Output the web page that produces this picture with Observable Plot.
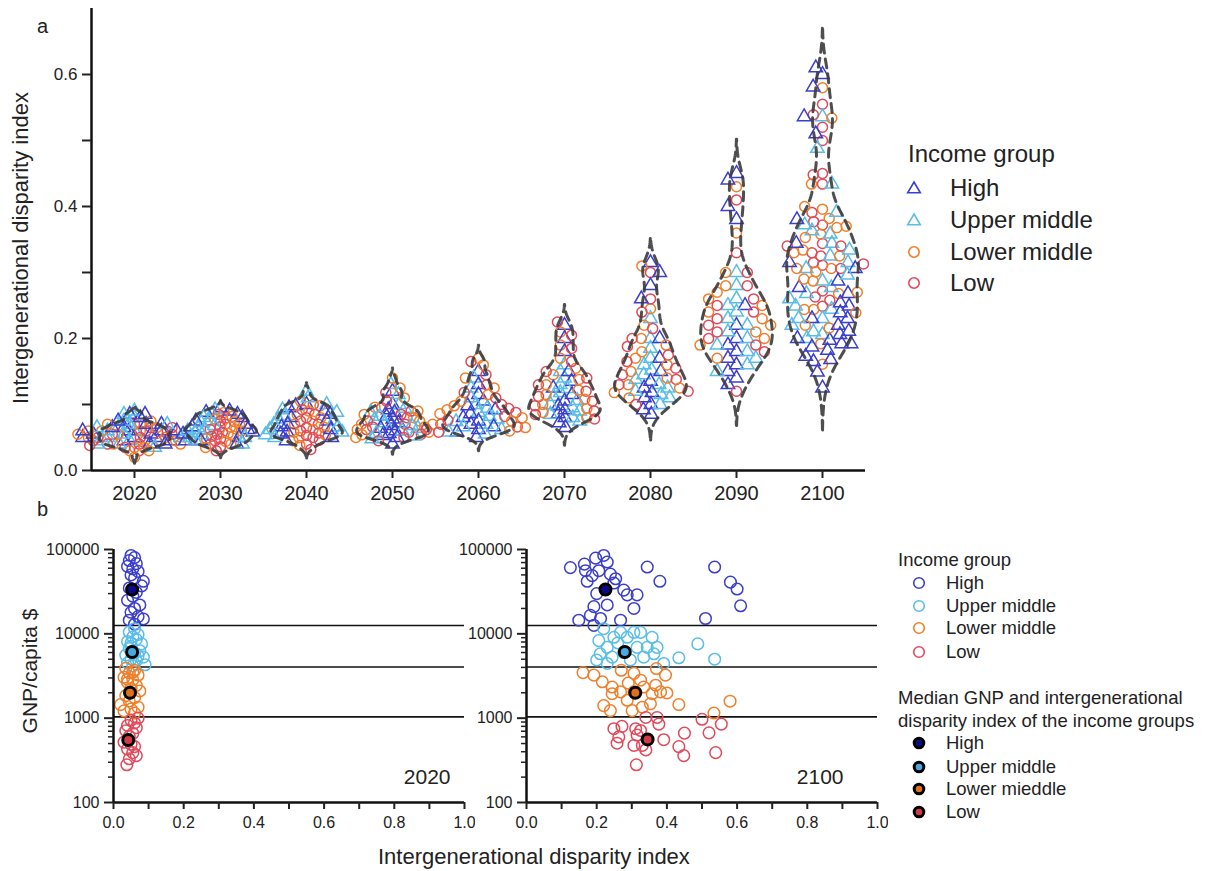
<!DOCTYPE html>
<html><head><meta charset="utf-8">
<script src="https://cdn.jsdelivr.net/npm/d3@7"></script>
<script src="https://cdn.jsdelivr.net/npm/@observablehq/plot@0.6"></script>
<style>
body{margin:0;background:#fff;font-family:"Liberation Sans",Arial,Helvetica,sans-serif;color:#222;}
#page{position:relative;width:1210px;height:871px;overflow:hidden;background:#fff;}
.lbl{position:absolute;white-space:nowrap;line-height:1;}
.pw{position:absolute;}
.sym{position:absolute;overflow:visible;}
</style></head><body><div id="page"></div>
<script>
// ---------- categories & styles ----------
const groups = ["High", "Upper middle", "Lower middle", "Low"];
const groupColors = ["#3b3fc9", "#59bde8", "#ef7f2a", "#e04a5a"];
const medianFills = ["#0b0b8a", "#4aa8e0", "#e0701c", "#d23a45"];
const decades = [2020, 2030, 2040, 2050, 2060, 2070, 2080, 2090, 2100];
const incomeThresholds = [1035, 4045, 12535];

// ---------- panel b data: [intergenerational disparity index, GNP/capita $] ----------
const b2020High = [[0.05,85000],[0.06,80000],[0.045,74000],[0.065,68000],[0.04,63000],[0.055,59000],[0.07,55000],[0.05,50000],[0.06,46000],[0.085,42000],[0.08,37000],[0.045,35000],[0.065,31000],[0.055,28000],[0.04,25000],[0.075,22000],[0.06,20000],[0.05,18000],[0.07,16000],[0.085,15000],[0.045,14500],[0.06,13000]];
const b2020UpperMiddle = [[0.06,11500],[0.045,10500],[0.07,9800],[0.055,9200],[0.065,8600],[0.04,8100],[0.08,7600],[0.05,7100],[0.045,6700],[0.075,6300],[0.06,5900],[0.035,5600],[0.085,5300],[0.05,5000],[0.065,4800],[0.04,4500],[0.09,4300],[0.055,4150],[0.07,5500],[0.05,7800]];
const b2020LowerMiddle = [[0.035,3900],[0.06,3700],[0.045,3450],[0.07,3250],[0.03,3050],[0.055,2850],[0.04,2650],[0.065,2450],[0.05,2250],[0.075,2100],[0.035,1850],[0.06,1750],[0.045,1600],[0.02,1450],[0.07,1350],[0.05,1280],[0.03,1220],[0.06,1150],[0.04,2900],[0.055,3500]];
const b2020Low = [[0.07,1000],[0.05,950],[0.06,880],[0.04,820],[0.065,770],[0.035,710],[0.055,660],[0.045,610],[0.03,520],[0.05,490],[0.06,460],[0.04,430],[0.055,390],[0.065,360],[0.045,330],[0.038,280]];
const median2020 = [[0.053,33500],[0.053,6100],[0.047,2000],[0.042,550]];

const b2100High = [[0.125,61000],[0.165,67000],[0.197,79000],[0.22,85000],[0.23,71000],[0.168,56000],[0.187,49000],[0.173,42000],[0.206,56000],[0.239,51000],[0.254,45000],[0.249,40000],[0.277,33000],[0.287,29000],[0.315,29000],[0.306,20000],[0.2,30000],[0.192,21000],[0.182,16600],[0.149,14500],[0.211,15200],[0.268,14500],[0.23,22000],[0.192,12600],[0.344,62000],[0.38,42000],[0.536,62000],[0.581,41000],[0.6,34000],[0.61,21500],[0.51,15200]];
const b2100UpperMiddle = [[0.206,8300],[0.23,6900],[0.21,5800],[0.2,4900],[0.244,5300],[0.277,6000],[0.287,9100],[0.306,10400],[0.325,10400],[0.268,10400],[0.315,6900],[0.344,6900],[0.358,9100],[0.334,5300],[0.363,5800],[0.391,4450],[0.249,9100],[0.23,4450],[0.434,5200],[0.488,7600],[0.536,5000],[0.296,4900],[0.372,6900],[0.26,7800],[0.22,11500]];
const b2100LowerMiddle = [[0.161,3470],[0.192,3240],[0.216,2700],[0.244,2340],[0.244,1950],[0.268,2050],[0.306,2050],[0.287,1630],[0.306,3400],[0.325,2820],[0.334,2340],[0.358,1950],[0.382,2050],[0.396,3240],[0.368,2460],[0.22,1410],[0.239,1230],[0.301,1230],[0.33,1350],[0.353,1480],[0.434,1450],[0.534,1150],[0.58,1590],[0.4,1990],[0.37,3880],[0.29,2600],[0.27,3700]];
const b2100Low = [[0.249,750],[0.272,800],[0.263,600],[0.258,505],[0.311,750],[0.315,630],[0.325,715],[0.306,475],[0.33,475],[0.344,555],[0.372,1020],[0.377,850],[0.34,1020],[0.391,555],[0.434,460],[0.45,665],[0.448,360],[0.5,970],[0.52,670],[0.555,850],[0.539,390],[0.313,280],[0.34,420]];
const median2100 = [[0.225,33500],[0.28,6100],[0.31,2000],[0.345,560]];

// ---------- panel a data: index by decade, [High, Upper middle, Lower middle, Low] ----------
const idx2030 = [
 [0.095,0.09,0.088,0.085,0.08,0.075,0.07,0.066,0.062,0.058,0.055,0.05,0.045,0.04],
 [0.092,0.085,0.08,0.075,0.072,0.068,0.065,0.062,0.06,0.057,0.054,0.05,0.046,0.04],
 [0.088,0.082,0.078,0.074,0.07,0.066,0.063,0.06,0.056,0.052,0.048,0.044,0.04,0.035],
 [0.085,0.08,0.075,0.07,0.066,0.062,0.058,0.055,0.052,0.048,0.045,0.04,0.036,0.03]];
const idx2040 = [
 [0.1,0.098,0.095,0.09,0.085,0.08,0.075,0.07,0.066,0.062,0.058,0.055,0.05,0.045],
 [0.12,0.11,0.1,0.092,0.088,0.082,0.078,0.074,0.07,0.066,0.062,0.058,0.054,0.05],
 [0.105,0.098,0.09,0.085,0.08,0.075,0.07,0.065,0.062,0.058,0.054,0.05,0.045,0.038],
 [0.1,0.092,0.085,0.08,0.075,0.07,0.065,0.06,0.057,0.053,0.05,0.046,0.04,0.032]];
const idx2050 = [
 [0.12,0.1,0.092,0.088,0.082,0.078,0.072,0.068,0.064,0.06,0.056,0.053,0.05,0.04],
 [0.13,0.115,0.1,0.094,0.088,0.082,0.076,0.072,0.068,0.064,0.06,0.056,0.052,0.048],
 [0.14,0.125,0.11,0.096,0.09,0.085,0.08,0.075,0.07,0.066,0.062,0.058,0.054,0.05],
 [0.118,0.105,0.095,0.09,0.085,0.08,0.075,0.07,0.066,0.062,0.058,0.055,0.05,0.045]];
const idx2060 = [
 [0.15,0.13,0.115,0.105,0.098,0.092,0.086,0.08,0.075,0.07,0.066,0.062,0.058,0.05],
 [0.14,0.125,0.11,0.1,0.094,0.088,0.082,0.078,0.074,0.07,0.066,0.062,0.058,0.055],
 [0.17,0.16,0.14,0.125,0.115,0.105,0.098,0.092,0.086,0.08,0.075,0.07,0.065,0.06],
 [0.165,0.145,0.13,0.118,0.11,0.1,0.094,0.088,0.082,0.076,0.07,0.066,0.062,0.058]];
const idx2070 = [
 [0.22,0.2,0.18,0.15,0.135,0.125,0.115,0.105,0.098,0.092,0.086,0.08,0.072,0.065],
 [0.16,0.15,0.14,0.13,0.124,0.118,0.112,0.106,0.1,0.095,0.09,0.085,0.08,0.075],
 [0.21,0.19,0.17,0.155,0.145,0.138,0.13,0.122,0.115,0.108,0.1,0.094,0.088,0.08],
 [0.225,0.205,0.185,0.165,0.15,0.14,0.13,0.12,0.112,0.105,0.098,0.09,0.085,0.078]];
const idx2080 = [
 [0.315,0.3,0.28,0.26,0.2,0.17,0.15,0.135,0.125,0.118,0.11,0.1,0.092,0.085],
 [0.23,0.2,0.185,0.17,0.16,0.152,0.145,0.138,0.13,0.125,0.12,0.115,0.11,0.1],
 [0.31,0.245,0.22,0.2,0.19,0.18,0.17,0.16,0.15,0.14,0.13,0.125,0.118,0.11],
 [0.3,0.26,0.24,0.215,0.2,0.188,0.175,0.165,0.155,0.145,0.138,0.13,0.12,0.1]];
const idx2090 = [
 [0.45,0.44,0.4,0.38,0.25,0.22,0.2,0.19,0.18,0.17,0.16,0.15,0.14,0.13],
 [0.3,0.28,0.26,0.25,0.24,0.23,0.22,0.21,0.2,0.19,0.18,0.17,0.16,0.15],
 [0.43,0.36,0.3,0.28,0.27,0.26,0.25,0.24,0.23,0.22,0.21,0.2,0.19,0.17],
 [0.41,0.33,0.3,0.28,0.26,0.25,0.24,0.23,0.22,0.21,0.2,0.19,0.18,0.12]];

// ---------- styles (not data) ----------
const dodgeRadius = [2.9, 2.9, 3.4, 3.4, 4.1, 3.9, 4.6, 5.4, 4.7];
const FONT = '"Liberation Sans", Arial, Helvetica, sans-serif';

// ---------- build tables ----------
const b2020 = [b2020High, b2020UpperMiddle, b2020LowerMiddle, b2020Low];
const b2100 = [b2100High, b2100UpperMiddle, b2100LowerMiddle, b2100Low];
const idxByDecade = new Map([
  [2020, b2020.map(a => a.map(d => d[0]))],
  [2030, idx2030], [2040, idx2040], [2050, idx2050], [2060, idx2060],
  [2070, idx2070], [2080, idx2080], [2090, idx2090],
  [2100, b2100.map(a => a.map(d => d[0]))]
]);

function interleave(year, arrs) {
  const out = [];
  const m = d3.max(arrs, a => a.length);
  for (let k = 0; k < m; k++) arrs.forEach((a, g) => { if (k < a.length) out.push({year, group: groups[g], v: a[k]}); });
  return out;
}
const swarm = decades.flatMap(y => interleave(y, idxByDecade.get(y)));

// violin outline from a gaussian kernel density of each decade's values
function violin(year, values) {
  const n = values.length, sd = d3.deviation(values);
  const h = 0.55 * 1.06 * sd * Math.pow(n, -0.2);
  const lo = d3.min(values) - 2.5 * h, hi = d3.max(values) + 2.5 * h;
  const N = 140, pts = [];
  for (let i = 0; i <= N; i++) {
    const y = lo + (hi - lo) * i / N;
    let s = 0; for (const v of values) s += Math.exp(-0.5 * ((y - v) / h) ** 2);
    pts.push({y, s});
  }
  const mx = d3.max(pts, p => p.s);
  const right = pts.map(p => ({year, v: p.y, w: p.s / mx}));
  const left = pts.slice().reverse().map(p => ({year, v: p.y, w: -p.s / mx}));
  return right.concat(left, [right[0]]);
}
const violins = decades.flatMap(y => violin(y, idxByDecade.get(y).flat()));

// ---------- layout helpers ----------
const page = document.getElementById("page");
function place(node, x, y) { const w = document.createElement("div"); w.className = "pw"; w.style.left = x + "px"; w.style.top = y + "px"; w.appendChild(node); page.appendChild(w); }
function text(t, x, cy, size, rotate) {
  const d = document.createElement("div"); d.className = "lbl"; d.textContent = t;
  d.style.left = x + "px"; d.style.top = cy + "px"; d.style.fontSize = size + "px";
  d.style.transform = rotate ? "translate(-50%,-50%) rotate(-90deg)" : "translateY(-50%)";
  page.appendChild(d);
}
function symbol(kind, cx, cy, stroke, fill, sw, s) {
  const ns = "http://www.w3.org/2000/svg";
  const svg = document.createElementNS(ns, "svg");
  svg.setAttribute("class", "sym"); svg.setAttribute("width", 20); svg.setAttribute("height", 20);
  svg.style.left = (cx - 10) + "px"; svg.style.top = (cy - 10) + "px";
  let el;
  if (kind === "triangle") { el = document.createElementNS(ns, "path"); el.setAttribute("d", `M10,${10 - s}L${10 + s * 1.05},${10 + s * 0.8}L${10 - s * 1.05},${10 + s * 0.8}Z`); }
  else { el = document.createElementNS(ns, "circle"); el.setAttribute("cx", 10); el.setAttribute("cy", 10); el.setAttribute("r", s); }
  el.setAttribute("fill", fill); el.setAttribute("stroke", stroke); el.setAttribute("stroke-width", sw);
  svg.appendChild(el); page.appendChild(svg);
}

// ---------- panel a ----------
const plotA = Plot.plot({
  width: 880, height: 505, marginLeft: 89, marginRight: 13, marginTop: 8, marginBottom: 35,
  style: {background: "transparent", fontFamily: FONT, color: "#222"},
  fx: {domain: decades, padding: 0},
  x: {domain: [-1.2, 1.2], axis: null},
  y: {domain: [0, 0.7], axis: null},
  symbol: {domain: groups, range: ["triangle", "triangle", "circle", "circle"]},
  color: {domain: groups, range: groupColors},
  marks: [
    ...decades.map((yr, i) => Plot.dot(swarm.filter(d => d.year === yr),
      Plot.dodgeX({anchor: "middle", padding: 0, r: dodgeRadius[i]},
        {fx: "year", y: "v", symbol: "group", stroke: "group", fill: "none", r: 5, strokeWidth: 1.5}))),
    Plot.line(violins, {fx: "year", x: "w", y: "v", z: "year", stroke: "#3b3b3b", strokeWidth: 3, strokeDasharray: "9,6", strokeOpacity: 0.9}),
    Plot.ruleY([0], {strokeWidth: 2.5, stroke: "#111"}),
    Plot.ruleX([{year: decades[0]}], {fx: "year", x: () => -1.2, strokeWidth: 2.5, stroke: "#111"}),
    Plot.axisY({ticks: d3.range(0, 7).map(k => k / 10), tickSize: 9, tickPadding: 5, fontSize: 17, strokeWidth: 2, label: null,
      tickFormat: d => Math.round(d * 10) % 2 === 0 ? d.toFixed(1) : ""}),
    Plot.axisFx({anchor: "bottom", tickSize: 8, tickPadding: 7, fontSize: 20, strokeWidth: 2, label: null, tickFormat: d => String(d)})
  ]
});
place(plotA, 0, 0);

// ---------- panel b ----------
function panelB(year, sets, medians, mL, labelDx) {
  const pts = sets.flatMap((a, g) => a.map(d => ({group: groups[g], idx: d[0], gnp: d[1]})));
  const meds = medians.map((d, g) => ({group: groups[g], idx: d[0], gnp: d[1]}));
  const minor = [];
  for (const base of [100, 1000, 10000]) for (let k = 2; k <= 9; k++) minor.push(base * k);
  return Plot.plot({
    width: mL + 351 + 11, height: 307, marginLeft: mL, marginRight: 11, marginTop: 19, marginBottom: 35,
    style: {background: "transparent", fontFamily: FONT, color: "#222"},
    x: {domain: [0, 1], axis: null},
    y: {type: "log", domain: [100, 100000], axis: null},
    color: {domain: groups, range: groupColors},
    marks: [
      Plot.ruleY(incomeThresholds, {stroke: "#111", strokeWidth: 1.6}),
      Plot.dot(pts, {x: "idx", y: "gnp", stroke: "group", fill: "none", r: 5.8, strokeWidth: 1.5}),
      ...meds.map((m, g) => Plot.dot([m], {x: "idx", y: "gnp", fill: medianFills[g], stroke: "#000", strokeWidth: 3, r: 5.5})),
      Plot.ruleX([0], {strokeWidth: 2.5, stroke: "#111"}),
      Plot.ruleY([100], {strokeWidth: 2.5, stroke: "#111"}),
      Plot.axisY({ticks: [100, 1000, 10000, 100000], tickSize: 9, tickPadding: 5, fontSize: 16, strokeWidth: 2, label: null, tickFormat: d => String(d)}),
      Plot.axisY({ticks: minor, tickSize: 5, strokeWidth: 1.5, label: null, tickFormat: () => ""}),
      Plot.axisX({ticks: d3.range(0, 11).map(k => k / 10), tickSize: 7, tickPadding: 7, fontSize: 16, strokeWidth: 2, label: null,
        tickFormat: d => Math.round(d * 10) % 2 === 0 ? d.toFixed(1) : ""}),
      Plot.text([String(year)], {frameAnchor: "bottom-right", dx: labelDx, dy: -19, text: d => d, textAnchor: "end", lineAnchor: "bottom", fontSize: 21, fill: "#222"})
    ]
  });
}
place(panelB(2020, b2020, median2020, 113, -14), 0, 530);
place(panelB(2100, b2100, median2100, 72, -34), 454, 530);

// ---------- texts ----------
text("a", 37, 26, 20);
text("b", 37, 509, 20);
text("Intergenerational disparity index", 21, 248, 22, true);
text("GNP/capita $", 29, 671, 21, true);
text("Intergenerational disparity index", 378, 857, 22);

// legend a
text("Income group", 908, 154, 24);
const legA = [["triangle", 188], ["triangle", 220], ["circle", 252], ["circle", 283]];
legA.forEach(([k, y], g) => { symbol(k, 914, y, groupColors[g], "none", 1.6, k === "triangle" ? 6 : 5.2); text(groups[g], 950, y, 24); });

// legend b
text("Income group", 898, 560, 18.5);
[583, 606, 628, 652].forEach((y, g) => { symbol("circle", 919, y, groupColors[g], "none", 1.6, 5.3); text(groups[g], 946, y, 18.5); });
text("Median GNP and intergenerational", 898, 698, 18.5);
text("disparity index of the income groups", 898, 721, 18.5);
const medLabels = ["High", "Upper middle", "Lower mieddle", "Low"];
[743, 767, 789, 812].forEach((y, g) => { symbol("circle", 919, y, "#000", medianFills[g], 3, 4.8); text(medLabels[g], 946, y, 18.5); });
</script>
</body></html>
